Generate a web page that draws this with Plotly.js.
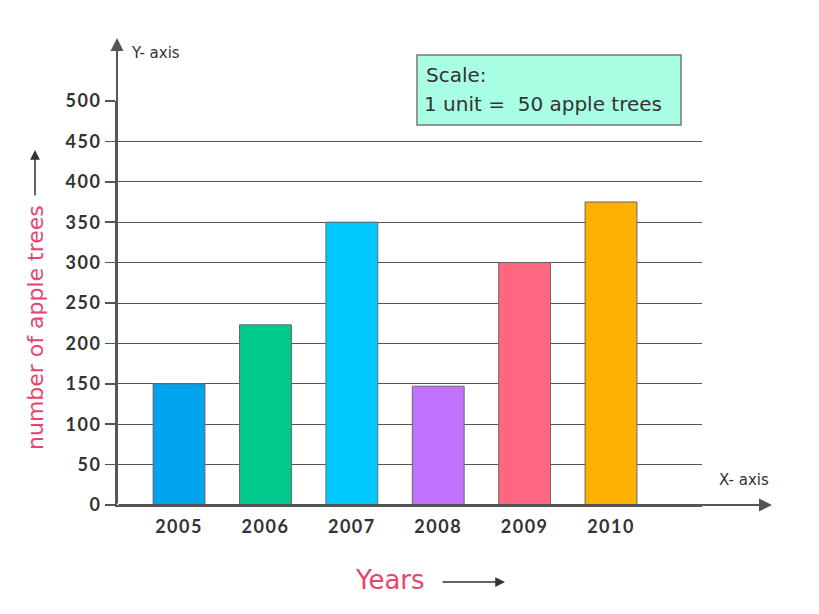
<!DOCTYPE html>
<html>
<head>
<meta charset="utf-8">
<script src="https://cdn.plot.ly/plotly-3.0.1.min.js"></script>
<style>
html,body{margin:0;padding:0;background:#fff}
#chart{width:819px;height:614px}
#chart .xtick text, #chart .ytick text{letter-spacing:1.5px}
</style>
</head>
<body>
<div id="chart"></div>
<script>
const years = [2005, 2006, 2007, 2008, 2009, 2010];
const appleTrees = [150, 223, 350, 147, 300, 375];
const barColors = ['#00A3EE', '#00C98B', '#00C8FF', '#C072FF', '#FF6682', '#FFB100'];
const yTicks = [0, 50, 100, 150, 200, 250, 300, 350, 400, 450, 500];

const axisColor = '#555555';
const pink = '#E8456C';
const fontFam = 'Lato, "Open Sans", sans-serif';
const annFont = '"DejaVu Sans", sans-serif';

const trace = {
  type: 'bar',
  x: years,
  y: appleTrees,
  width: 0.6,
  marker: {color: barColors, line: {color: '#666666', width: 1}},
  hoverinfo: 'skip'
};

const layout = {
  width: 819, height: 614,
  margin: {l: 117, r: 117, t: 101, b: 109},
  paper_bgcolor: '#ffffff', plot_bgcolor: '#ffffff',
  showlegend: false,
  font: {family: fontFam, color: '#333333'},
  xaxis: {
    type: 'linear',
    range: [2004.282, 2011.053],
    tickvals: years,
    ticktext: years.map(String),
    showgrid: false, zeroline: false,
    showline: true, linecolor: axisColor, linewidth: 2,
    ticks: '',
    ticklabelstandoff: 4,
    tickfont: {family: fontFam, size: 18, color: '#333333', weight: 'bold'},
    fixedrange: true
  },
  yaxis: {
    range: [0, 500],
    tickvals: yTicks,
    ticktext: yTicks.map(String),
    showgrid: true, gridcolor: '#555555', gridwidth: 1,
    zeroline: false,
    showline: true, linecolor: axisColor, linewidth: 2,
    ticks: 'outside', ticklen: 10, tickcolor: axisColor, tickwidth: 1.5,
    tickfont: {family: fontFam, size: 18, color: '#333333', weight: 'bold'},
    fixedrange: true
  },
  shapes: [
    {type: 'rect', xref: 'paper', yref: 'paper',
     x0: (417-117)/585, x1: (681-117)/585, y0: (505-125)/404, y1: (505-55)/404,
     fillcolor: '#A9FFE3', line: {color: '#777777', width: 1.5}, layer: 'above'}
  ],
  annotations: [
    {xref: 'paper', yref: 'paper', x: 0, y: (505-38)/404, ax: 0, ay: 467,
     showarrow: true, arrowhead: 2, arrowsize: 1.3, arrowwidth: 2, arrowcolor: axisColor, text: ''},
    {xref: 'paper', yref: 'paper', x: (772-117)/585, y: 0, ax: -655, ay: 0,
     showarrow: true, arrowhead: 2, arrowsize: 1.3, arrowwidth: 2, arrowcolor: axisColor, text: ''},
    {xref: 'paper', yref: 'paper', x: (129-117)/585, y: (505-53)/404, xanchor: 'left', yanchor: 'middle',
     text: 'Y- axis', showarrow: false, font: {family: annFont, size: 15, color: '#333333'}},
    {xref: 'paper', yref: 'paper', x: (717-117)/585, y: (505-480)/404, xanchor: 'left', yanchor: 'middle',
     text: 'X- axis', showarrow: false, font: {family: annFont, size: 15, color: '#333333'}},
    {xref: 'paper', yref: 'paper', x: (35-117)/585, y: (505-328)/404, xanchor: 'center', yanchor: 'middle',
     text: 'number of apple trees', textangle: -90, showarrow: false,
     font: {family: annFont, size: 22, color: pink}},
    {xref: 'paper', yref: 'paper', x: (35-117)/585, y: (505-150)/404, ax: 0, ay: 47,
     showarrow: true, arrowhead: 2, arrowsize: 1.3, arrowwidth: 1.5, arrowcolor: '#333333', text: ''},
    {xref: 'paper', yref: 'paper', x: (390-117)/585, y: (505-580)/404, xanchor: 'center', yanchor: 'middle',
     text: 'Years', showarrow: false, font: {family: annFont, size: 26, color: pink}},
    {xref: 'paper', yref: 'paper', x: (505-117)/585, y: (505-582)/404, ax: -64, ay: 0,
     showarrow: true, arrowhead: 2, arrowsize: 1.3, arrowwidth: 1.5, arrowcolor: '#333333', text: ''},
    {xref: 'paper', yref: 'paper', x: (424-117)/585, y: (505-75)/404, xanchor: 'left', yanchor: 'middle',
     text: 'Scale:', showarrow: false, font: {family: annFont, size: 20, color: '#333333'}},
    {xref: 'paper', yref: 'paper', x: (422-117)/585, y: (505-104)/404, xanchor: 'left', yanchor: 'middle',
     text: '1 unit =  50 apple trees', showarrow: false, font: {family: annFont, size: 20, color: '#333333'}}
  ]
};

Plotly.newPlot('chart', [trace], layout, {displayModeBar: false, staticPlot: true});
</script>
</body>
</html>
